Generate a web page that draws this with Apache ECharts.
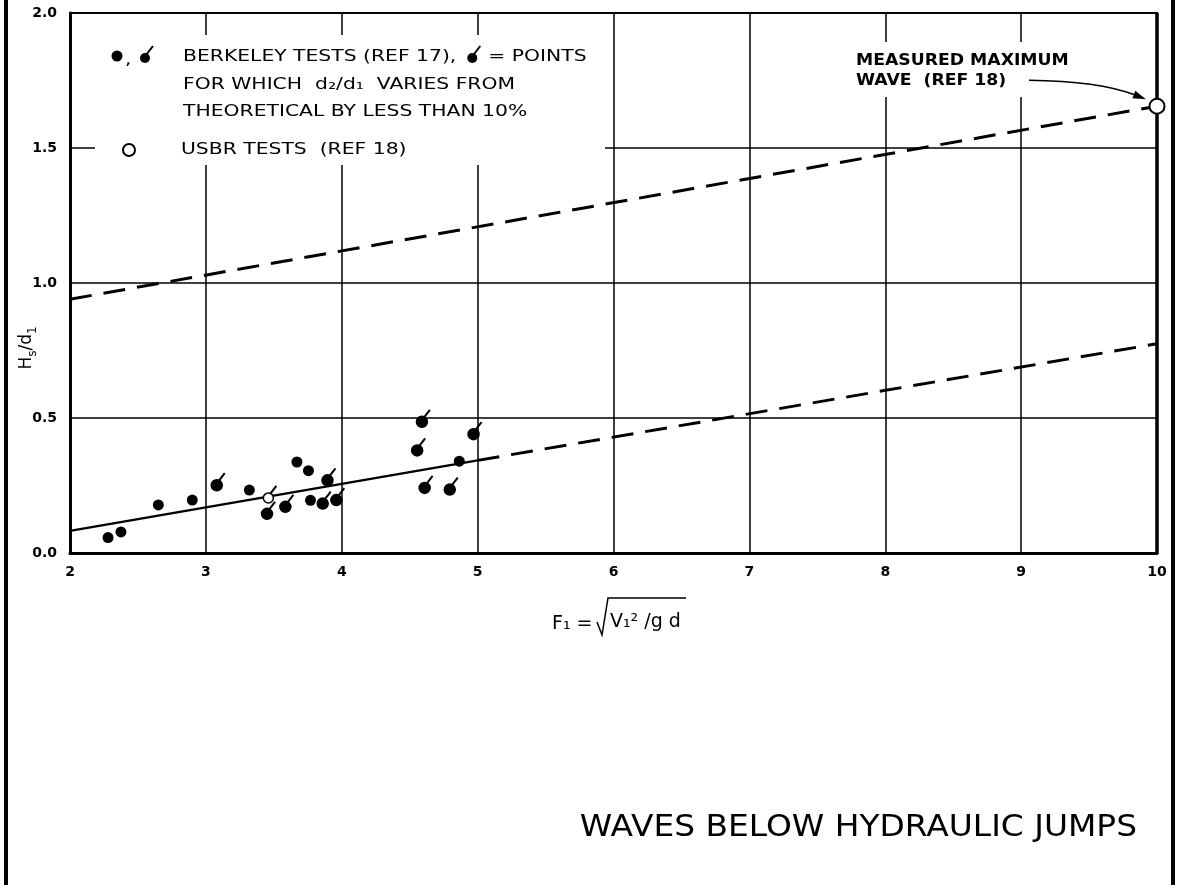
<!DOCTYPE html>
<html>
<head>
<meta charset="utf-8">
<title>Waves below hydraulic jumps</title>
<script src="https://cdn.jsdelivr.net/npm/echarts@6/dist/echarts.min.js"></script>
<style>
    html, body { margin: 0; padding: 0; background: #fff; }
    #main { width: 1180px; height: 885px; }
</style>
</head>
<body>
<div id="main"></div>
<script>
// Berkeley tests (ref 17), plain dots
var berkeleyX = [2.28, 2.375, 2.65, 2.90, 3.32, 3.67, 3.755, 3.77, 4.865];
var berkeleyY = [0.057, 0.078, 0.178, 0.196, 0.233, 0.337, 0.305, 0.195, 0.340];

// Berkeley tests, d2/d1 within 10% of theory (flagged dots)
var flaggedX = [3.08, 3.45, 3.585, 3.86, 3.895, 3.96, 4.555, 4.59, 4.61, 4.795, 4.97];
var flaggedY = [0.251, 0.145, 0.171, 0.183, 0.269, 0.196, 0.380, 0.486, 0.241, 0.235, 0.440];

// USBR tests (ref 18)
var usbrX = [3.46];
var usbrY = [0.204];
var usbrMaxX = [10];
var usbrMaxY = [1.655];

// curves
var fitX = [2, 5];
var fitY = [0.082, 0.343];
var fitExtX = [5, 10];
var fitExtY = [0.343, 0.775];
var upperX = [2, 10];
var upperY = [0.94, 1.655];

var xTicks = [2, 3, 4, 5, 6, 7, 8, 9, 10];
var yTicks = ["0.0", "0.5", "1.0", "1.5", "2.0"];

var FONT = "DejaVu Sans";

var chart = echarts.init(document.getElementById("main"));

function pairs(xs, ys){
    return xs.map(function(x, i){ return [x, ys[i]]; });
}

function flagRender(open){
    return function(params, api){
        var p = api.coord([api.value(0), api.value(1)]);
        return {
            type: "group",
            children: [{
                type: "line",
                shape: { x1: p[0] + 1, y1: p[1] - 3, x2: p[0] + 8, y2: p[1] - 12 },
                style: { stroke: "#000", lineWidth: 2 }
            }, {
                type: "circle",
                shape: { cx: p[0], cy: p[1], r: open ? 5 : 5.5 },
                style: { fill: open ? "#fff" : "#000", stroke: "#000", lineWidth: 1.5 }
            }]
        };
    };
}

chart.setOption({
    animation: false,
    backgroundColor: "#fff",
    grid: {
        left: 70, right: 23, top: 13, bottom: 332,
        show: true, borderColor: "#000", borderWidth: 2
    },
    xAxis: {
        type: "value", min: 2, max: 10, interval: 1,
        axisLine: { lineStyle: { color: "#000", width: 3 } },
        axisTick: { show: false },
        axisLabel: {
            color: "#000", fontFamily: FONT, fontWeight: "bold", fontSize: 14, margin: 12,
            formatter: function(v){ return xTicks.indexOf(v) >= 0 ? String(v) : ""; }
        },
        splitLine: { lineStyle: { color: "#000", width: 1.5 } }
    },
    yAxis: {
        type: "value", min: 0, max: 2, interval: 0.5,
        axisLine: { lineStyle: { color: "#000", width: 3 } },
        axisTick: { show: false },
        axisLabel: {
            color: "#000", fontFamily: FONT, fontWeight: "bold", fontSize: 14, margin: 13,
            formatter: function(v){ return yTicks[Math.round(v / 0.5)]; }
        },
        splitLine: { lineStyle: { color: "#000", width: 1.5 } }
    },
    series: [{
        type: "line",
        data: pairs(fitX, fitY),
        showSymbol: false,
        lineStyle: { color: "#000", width: 2.5 },
        z: 1
    }, {
        type: "line",
        data: pairs(fitExtX, fitExtY),
        showSymbol: false,
        lineStyle: { color: "#000", width: 3, type: [22, 12] },
        z: 1
    }, {
        type: "line",
        data: pairs(upperX, upperY),
        showSymbol: false,
        lineStyle: { color: "#000", width: 3, type: [22, 12] },
        z: 1
    }, {
        type: "scatter",
        data: pairs(berkeleyX, berkeleyY),
        symbolSize: 11,
        itemStyle: { color: "#000", opacity: 1 },
        z: 3
    }, {
        type: "custom",
        data: pairs(flaggedX, flaggedY),
        renderItem: flagRender(false),
        z: 3
    }, {
        type: "custom",
        data: pairs(usbrX, usbrY),
        renderItem: flagRender(true),
        z: 3
    }, {
        type: "scatter",
        data: pairs(usbrMaxX, usbrMaxY),
        symbolSize: 15,
        itemStyle: { color: "#fff", borderColor: "#000", borderWidth: 2, opacity: 1 },
        z: 4
    }]
});

// annotations, legend block, title, outer frame
var tip = chart.convertToPixel({ gridIndex: 0 }, [usbrMaxX[0], usbrMaxY[0]]),
    gridTop = chart.convertToPixel({ gridIndex: 0 }, [10, 2]),
    gridBottom = chart.convertToPixel({ gridIndex: 0 }, [10, 0]);
var aEnd = [tip[0] - 11, tip[1] - 7],
    aStart = [tip[0] - 128, tip[1] - 26],
    aCtrl = [tip[0] - 58, tip[1] - 25],
    dx = aEnd[0] - aCtrl[0],
    dy = aEnd[1] - aCtrl[1],
    len = Math.sqrt(dx * dx + dy * dy),
    ux = dx / len, uy = dy / len,
    bx = aEnd[0] - 13 * ux, by = aEnd[1] - 13 * uy;

var legendFont = "16px " + FONT,
    noteFont = "bold 15px " + FONT,
    stretch = 1.27;

var measureCtx = document.createElement("canvas").getContext("2d");
function textWidth(text, font, sx){
    measureCtx.font = font;
    return measureCtx.measureText(text).width * sx;
}

// lettering is wide on the original drawing, so the text is stretched sideways
function txt(text, x, y, font, align, sx){
    return {
        type: "text", z: 20, x: x, y: y, scaleX: sx || stretch,
        style: { text: text, x: 0, y: 0, font: font || legendFont, fill: "#000", align: align || "left", verticalAlign: "middle" }
    };
}

function flagSym(x, y){
    return {
        type: "group",
        children: [{
            type: "line", z: 20,
            shape: { x1: x + 1, y1: y - 3, x2: x + 8, y2: y - 12 },
            style: { stroke: "#000", lineWidth: 2 }
        }, {
            type: "circle", z: 20,
            shape: { cx: x, cy: y, r: 5 },
            style: { fill: "#000" }
        }]
    };
}

var line1 = "BERKELEY TESTS (REF 17),",
    line1End = 183 + textWidth(line1, legendFont, stretch);

chart.setOption({
    graphic: [
        // white patches where the lettering breaks the grid
        { type: "rect", z: 10, shape: { x: 95, y: 35, width: 510, height: 130 }, style: { fill: "#fff" } },
        { type: "rect", z: 10, shape: { x: 850, y: 42, width: 228, height: 55 }, style: { fill: "#fff" } },

        // heavier right edge of the plot frame, kept under the series
        { type: "line", z: 2, shape: { x1: gridTop[0], y1: gridTop[1], x2: gridBottom[0], y2: gridBottom[1] + 1 }, style: { stroke: "#000", lineWidth: 3.5 } },

        { type: "circle", z: 20, shape: { cx: 117, cy: 56, r: 5.5 }, style: { fill: "#000" } },
        txt(",", 125, 60),
        flagSym(145, 58),
        txt(line1, 183, 57),
        flagSym(line1End + 16, 58),
        txt("= POINTS", line1End + 32, 57),
        txt("FOR WHICH  d\u2082/d\u2081  VARIES FROM", 183, 85),
        txt("THEORETICAL BY LESS THAN 10%", 183, 112),
        { type: "circle", z: 20, shape: { cx: 129, cy: 150, r: 6 }, style: { fill: "#fff", stroke: "#000", lineWidth: 2 } },
        txt("USBR TESTS  (REF 18)", 181, 150),

        txt("MEASURED MAXIMUM", 856, 61, noteFont, "left", 1.15),
        txt("WAVE  (REF 18)", 856, 81, noteFont, "left", 1.15),
        {
            type: "bezierCurve", z: 20,
            shape: { x1: aStart[0], y1: aStart[1], cpx1: aCtrl[0], cpy1: aCtrl[1], x2: bx, y2: by },
            style: { stroke: "#000", lineWidth: 1.5, fill: null }
        },
        {
            type: "polygon", z: 20,
            shape: { points: [aEnd, [bx - 4 * uy, by + 4 * ux], [bx + 4 * uy, by - 4 * ux]] },
            style: { fill: "#000" }
        },

        // y axis title  Hs/d1
        {
            type: "text", z: 20, x: 27, y: 348, rotation: Math.PI / 2,
            style: {
                text: "{m|H}{s|s}{m|/d}{s|1}", x: 0, y: 0, align: "center", verticalAlign: "middle",
                rich: {
                    m: { font: "17px " + FONT, fill: "#000", lineHeight: 24, verticalAlign: "middle" },
                    s: { font: "12px " + FONT, fill: "#000", verticalAlign: "bottom" }
                }
            }
        },

        // x axis title  F1 = sqrt(V1^2 / g d)
        txt("F\u2081 =", 552, 624, "19px " + FONT, "left", 1),
        {
            type: "polyline", z: 20,
            shape: { points: [[597, 622], [602, 635], [608, 598], [686, 598]] },
            style: { stroke: "#000", lineWidth: 1.5, fill: null }
        },
        txt("V\u2081\u00b2 /g d", 610, 622, "19px " + FONT, "left", 1),

        txt("WAVES BELOW HYDRAULIC JUMPS", 1137, 828, "31px " + FONT, "right", 1.06),

        // outer frame
        { type: "line", z: 20, shape: { x1: 6, y1: 0, x2: 6, y2: 885 }, style: { stroke: "#000", lineWidth: 4 } },
        { type: "line", z: 20, shape: { x1: 1173, y1: 0, x2: 1173, y2: 885 }, style: { stroke: "#000", lineWidth: 4 } }
    ]
});
</script>
</body>
</html>
